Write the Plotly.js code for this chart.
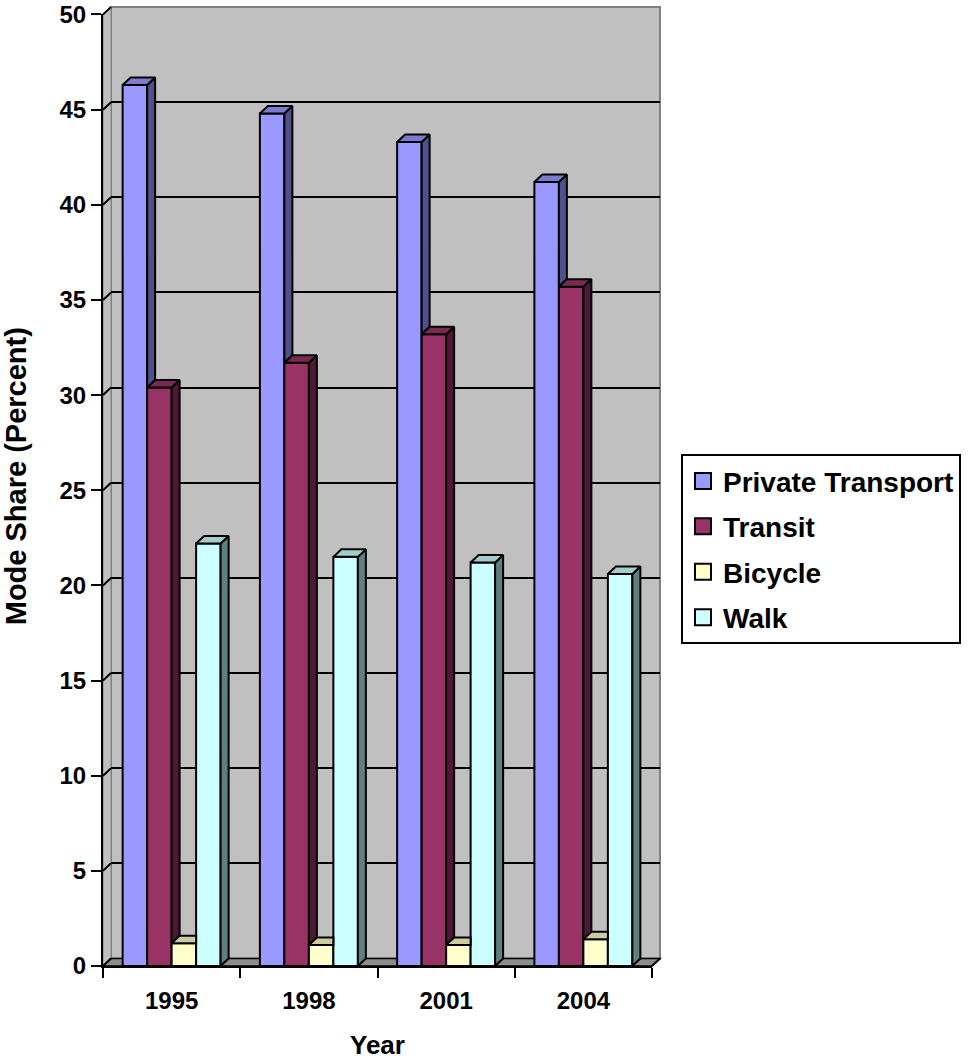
<!DOCTYPE html>
<html>
<head>
<meta charset="utf-8">
<script src="https://cdn.plot.ly/plotly-3.0.1.min.js"></script>
<style>html,body{margin:0;padding:0;background:#fff;}#chart{width:970px;height:1063px;}</style>
</head>
<body>
<div id="chart"></div>
<script>
// ---- data ----
const years = ['1995', '1998', '2001', '2004'];
const seriesNames = ['Private Transport', 'Transit', 'Bicycle', 'Walk'];
const privateTransport = [46.3, 44.8, 43.3, 41.2];
const transit = [30.4, 31.7, 33.2, 35.7];
const bicycle = [1.2, 1.1, 1.1, 1.4];
const walk = [22.2, 21.5, 21.2, 20.6];
const yTickValues = [0, 5, 10, 15, 20, 25, 30, 35, 40, 45, 50];
const xTitle = 'Year';
const yTitle = 'Mode Share (Percent)';

// ---- styling ----
const frontColors = ['#9999FF', '#993366', '#FFFFCC', '#CCFFFF'];
const topColors = ['#7B7BD0', '#7A2952', '#CCCCA3', '#A3CCCC'];
const sideColors = ['#50508A', '#4D1A33', '#80806A', '#608080'];
const FONT = 'Arial, "Liberation Sans", sans-serif';

const W = 970, H = 1063;
const FX0 = 103, FX1 = 652, FYB = 966, FYT = 14; // front plane in px
const DX = 8, DY = 7.5;                          // depth offset in px
const yMax = 50;
const bargap = 0.286;

const mL = FX0, mR = W - (FX1 + DX), mT = FYT - DY, mB = H - FYB;
const PW = W - mL - mR, PH = H - mT - mB;
const px2x = p => (p - mL) / PW;
const px2y = p => (H - mB - p) / PH;

const catPx = (FX1 - FX0) / years.length;
const unitPx = (FYB - FYT) / yMax;
const dxU = DX / catPx, dyU = DY / unitPx;

const seriesVals = [privateTransport, transit, bicycle, walk];
const xs = years.map((_, j) => j);
const BW = (1 - bargap) / seriesVals.length;

const traces = [];
// placeholder so the back-wall subplot is drawn (holds the gridlines)
traces.push({type: 'scatter', mode: 'markers', x: [null], y: [null], xaxis: 'x', yaxis: 'y',
  showlegend: false, hoverinfo: 'skip'});
// front faces: bars
seriesVals.forEach((vals, i) => {
  traces.push({
    type: 'bar', name: seriesNames[i], x: xs, y: vals,
    xaxis: 'x2', yaxis: 'y2', showlegend: false,
    marker: {color: frontColors[i], line: {color: '#000', width: 2}},
    hoverinfo: 'skip'
  });
});
// 3D decoration: side and top faces derived from the same data
seriesVals.forEach((vals, i) => {
  const sx = [], sy = [], tx = [], ty = [];
  vals.forEach((v, j) => {
    const L = j - (1 - bargap) / 2 + i * BW, R = L + BW;
    const c = i < seriesVals.length - 1 ? seriesVals[i + 1][j] : 0;
    if (c < v) {
      sx.push(R, R, R + dxU, R + dxU, R, null);
      sy.push(c, v, v + dyU, c + dyU, c, null);
    }
    if (i === seriesVals.length - 1 || c <= v) {
      tx.push(L, R, R + dxU, L + dxU, L, null);
      ty.push(v, v, v + dyU, v + dyU, v, null);
    } else if (c >= v + dyU) {
      tx.push(L, R, R, L + dxU, L, null);
      ty.push(v, v, v + dyU, v + dyU, v, null);
    } else {
      const xc = R + dxU * (c - v) / dyU;
      tx.push(L, R, R, xc, R + dxU, L + dxU, L, null);
      ty.push(v, v, c, c, v + dyU, v + dyU, v, null);
    }
  });
  traces.push({type: 'scatter', mode: 'lines', x: sx, y: sy, fill: 'toself', fillcolor: sideColors[i],
    line: {color: '#000', width: 2}, xaxis: 'x2', yaxis: 'y2', showlegend: false, hoverinfo: 'skip'});
  traces.push({type: 'scatter', mode: 'lines', x: tx, y: ty, fill: 'toself', fillcolor: topColors[i],
    line: {color: '#000', width: 2}, xaxis: 'x2', yaxis: 'y2', showlegend: false, hoverinfo: 'skip'});
});
// legend entries (square swatches like the reference)
seriesNames.forEach((name, i) => {
  traces.push({type: 'scatter', mode: 'markers', name: name, x: [null], y: [null],
    xaxis: 'x2', yaxis: 'y2', legendgroup: 'g' + i, hoverinfo: 'skip',
    marker: {symbol: 'square', size: 16, color: frontColors[i], line: {color: '#000', width: 2}}});
});

// walls & floor
const shapes = [];
const poly = pts => 'M' + pts.map(p => px2x(p[0]) + ',' + px2y(p[1])).join('L') + 'Z';
shapes.push({type: 'path', xref: 'paper', yref: 'paper', layer: 'below',
  path: poly([[FX0 + DX, FYT - DY], [FX1 + DX, FYT - DY], [FX1 + DX, FYB - DY], [FX0 + DX, FYB - DY]]),
  fillcolor: '#C0C0C0', line: {color: '#808080', width: 2}});
shapes.push({type: 'path', xref: 'paper', yref: 'paper', layer: 'below',
  path: poly([[FX0, FYB], [FX0, FYT], [FX0 + DX, FYT - DY], [FX0 + DX, FYB - DY]]),
  fillcolor: '#C0C0C0', line: {color: '#808080', width: 1}});
shapes.push({type: 'path', xref: 'paper', yref: 'paper', layer: 'below',
  path: poly([[FX0, FYB], [FX1, FYB], [FX1 + DX, FYB - DY], [FX0 + DX, FYB - DY]]),
  fillcolor: '#8C8C8C', line: {color: '#000', width: 1.5}});
yTickValues.forEach(v => {
  const py = FYB - v * unitPx;
  shapes.push({type: 'line', xref: 'paper', yref: 'paper', layer: 'below',
    x0: px2x(FX0), y0: px2y(py), x1: px2x(FX0 + DX), y1: px2y(py - DY),
    line: {color: '#000', width: 2}});
});
shapes.push({type: 'line', xref: 'paper', yref: 'paper', layer: 'above',
  x0: px2x(FX1), y0: px2y(FYB), x1: px2x(FX1 + DX), y1: px2y(FYB - DY), line: {color: '#000', width: 2}});

const tickFont = {family: FONT, size: 24, color: '#000', weight: 'bold'};

const layout = {
  width: W, height: H,
  margin: {l: mL, r: mR, t: mT, b: mB},
  paper_bgcolor: '#FFFFFF', plot_bgcolor: 'rgba(0,0,0,0)',
  barmode: 'group', bargap: bargap, bargroupgap: 0,
  showlegend: true,
  shapes: shapes,
  // back wall (gridlines)
  xaxis: {domain: [px2x(FX0 + DX), 1], anchor: 'y', range: [-0.5, years.length - 0.5],
    showticklabels: false, ticks: '', showline: false, showgrid: false, zeroline: false, fixedrange: true},
  yaxis: {domain: [px2y(FYB - DY), 1], anchor: 'x', range: [0, yMax], tickmode: 'array', tickvals: yTickValues.slice(1, -1),
    showticklabels: false, ticks: '', showline: false, zeroline: false,
    showgrid: true, gridcolor: '#000000', gridwidth: 2, fixedrange: true},
  // front plane
  xaxis2: {domain: [0, px2x(FX1)], anchor: 'y2', range: [-0.5, years.length - 0.5],
    tickmode: 'array', tickvals: xs, ticktext: years, ticks: '', ticklabelstandoff: 12,
    minor: {tickmode: 'linear', tick0: -0.5, dtick: 1, ticks: 'outside', ticklen: 10, tickwidth: 2, tickcolor: '#000', showgrid: false},
    showline: true, linecolor: '#000', linewidth: 2, showgrid: false, zeroline: false,
    tickfont: tickFont, fixedrange: true},
  yaxis2: {domain: [0, px2y(FYT)], anchor: 'x2', range: [0, yMax], tickmode: 'array', tickvals: yTickValues,
    ticks: 'outside', ticklen: 10, tickwidth: 2, tickcolor: '#000',
    showline: true, linecolor: '#000', linewidth: 2, showgrid: false, zeroline: false,
    tickfont: tickFont, fixedrange: true},
  legend: {x: px2x(681), y: px2y(454), xanchor: 'left', yanchor: 'top',
    bgcolor: '#FFFFFF', bordercolor: '#000', borderwidth: 2, traceorder: 'grouped', tracegroupgap: 6,
    font: {family: FONT, size: 28, color: '#000', weight: 'bold'}},
  annotations: [
    {text: xTitle, xref: 'paper', yref: 'paper', x: px2x((FX0 + FX1) / 2), y: px2y(1045),
      xanchor: 'center', yanchor: 'middle', showarrow: false,
      font: {family: FONT, size: 26, color: '#000', weight: 'bold'}},
    {text: yTitle, xref: 'paper', yref: 'paper', x: px2x(16), y: px2y(476), textangle: -90,
      xanchor: 'center', yanchor: 'middle', showarrow: false,
      font: {family: FONT, size: 29, color: '#000', weight: 'bold'}}
  ],
  hovermode: false
};

Plotly.newPlot('chart', traces, layout, {displayModeBar: false, staticPlot: true});
</script>
</body>
</html>
